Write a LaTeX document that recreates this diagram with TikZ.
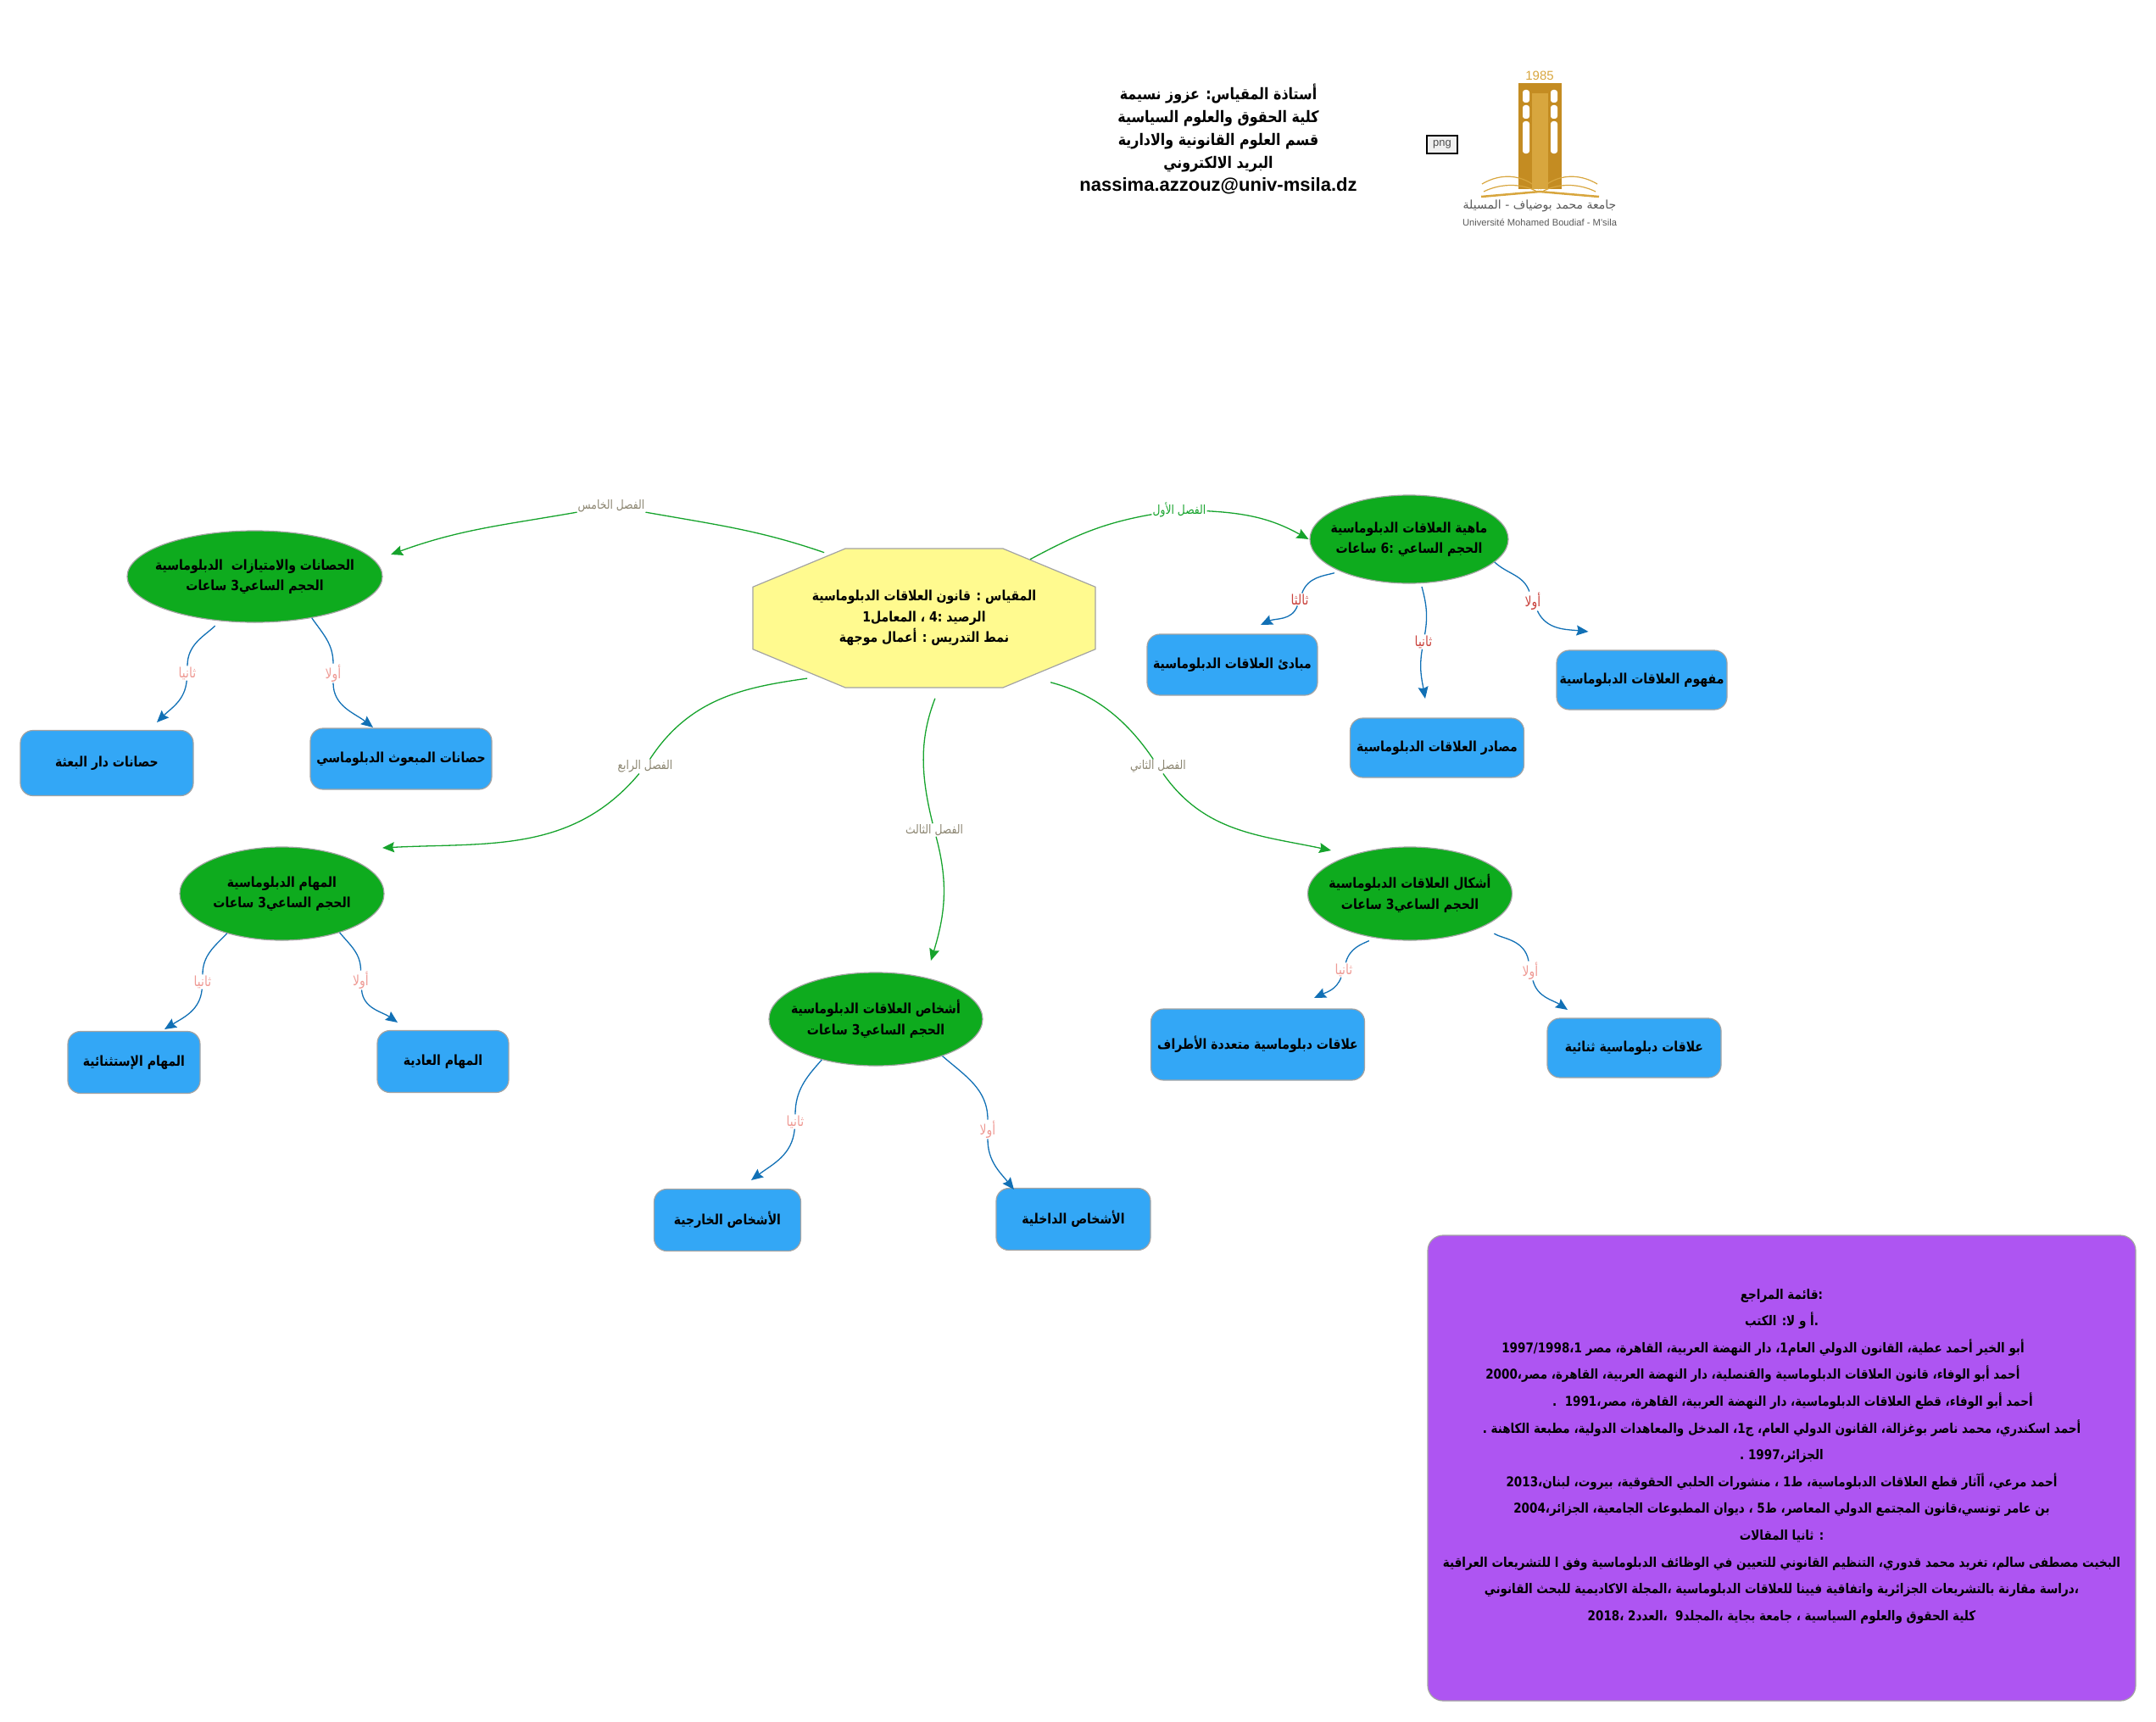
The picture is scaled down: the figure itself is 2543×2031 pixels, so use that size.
\documentclass[tikz,border=0pt]{standalone}
\usepackage{fontspec}
\usetikzlibrary{shapes.geometric,shapes.misc,arrows.meta}
\TeXXeTstate=1
\newfontfamily\arabicfont[Script=Arabic,FakeStretch=0.85]{DejaVu Sans}
\newfontfamily\logofont[Script=Arabic]{DejaVu Sans}
\newfontfamily\latinfont{Liberation Sans}
\newcommand{\rtl}[1]{\beginR #1\endR}
\definecolor{ovalgreen}{HTML}{0EAB1E}
\definecolor{boxblue}{HTML}{33A7F6}
\definecolor{octyellow}{HTML}{FFFA8F}
\definecolor{refpurple}{HTML}{AE55F2}
\definecolor{linegreen}{HTML}{16A32C}
\definecolor{lineblue}{HTML}{1170B5}
\definecolor{edgegray}{HTML}{A3A3A3}
\definecolor{labtaupe}{HTML}{8C8672}
\definecolor{labsalmon}{HTML}{EE9A94}
\definecolor{labred}{HTML}{C9423C}
\definecolor{logogold}{HTML}{C48C22}
\definecolor{logolight}{HTML}{D8A63E}
\begin{document}
\begin{tikzpicture}[x=1pt,y=-1pt,>={Stealth[length=14pt,width=12pt,inset=2pt]},
	main node/.style={chamfered rectangle,chamfered rectangle angle=67.45,chamfered rectangle xsep=32pt,chamfered rectangle ysep=32pt,minimum width=404pt,minimum height=164pt,inner sep=0pt,fill=octyellow,draw=edgegray,line width=1.2pt,align=center,font=\arabicfont\bfseries\fontsize{16.5}{24.5}\selectfont},
	chapter node/.style={ellipse,inner xsep=-45pt,inner ysep=-22pt,fill=ovalgreen,draw=edgegray,line width=1.2pt,align=center,font=\arabicfont\bfseries\fontsize{16.5}{24.5}\selectfont},
	topic node/.style={rectangle,rounded corners=15pt,inner sep=0pt,fill=boxblue,draw=edgegray,line width=1.2pt,align=center,font=\arabicfont\bfseries\fontsize{16.5}{24}\selectfont},
	chapter label/.style={inner sep=1pt,text=labtaupe,font=\arabicfont\fontsize{14.5}{16}\selectfont},
	topic label/.style={inner sep=1pt,text=labsalmon,font=\arabicfont\fontsize{16.5}{18}\selectfont},
	chapter line/.style={draw,color=linegreen,line width=1.3pt},
	topic line/.style={draw,color=lineblue,line width=1.3pt}]
	\useasboundingbox (0,0) rectangle (2543,2031);
	
	% header
	\node[align=center,font=\arabicfont\bfseries\fontsize{18.7}{27.2}\selectfont] (header) at (1437,164) {\rtl{أستاذة المقياس: عزوز نسيمة}\\\rtl{كلية الحقوق والعلوم السياسية}\\\rtl{قسم العلوم القانونية والادارية}\\\rtl{البريد الالكتروني}\\{\latinfont\fontsize{22}{27.2}\selectfont nassima.azzouz@univ-msila.dz}};
	\node[minimum width=36pt,minimum height=21pt,inner sep=0pt,fill=black!6,draw=black,line width=2pt,font=\latinfont\fontsize{13}{14}\selectfont,text=black!70] (png) at (1701,170.5) {png};
	
	% logo
	\node[text=logolight,font=\latinfont\fontsize{15}{18}\selectfont,inner sep=0pt] (year) at (1816,89) {1985};
	\fill[logogold] (1791,98) rectangle (1841.5,223);
	\fill[logolight] (1807,110) rectangle (1826,223);
	\foreach \wx in {1796,1829}{
		\fill[white,rounded corners=3pt] (\wx,106) rectangle +(8,15);
		\fill[white,rounded corners=3pt] (\wx,124) rectangle +(8,16);
		\fill[white,rounded corners=3pt] (\wx,143) rectangle +(8,38);
	}
	\draw[logolight,line width=2.5pt] (1747,232) -- (1816,226) -- (1886,232);
	\draw[logolight,line width=1.2pt] (1748,217) .. controls (1770,204) and (1795,205) .. (1815,223);
	\draw[logolight,line width=1.2pt] (1884,217) .. controls (1862,204) and (1837,205) .. (1817,223);
	\draw[logolight,line width=1.2pt] (1750,226) .. controls (1770,216) and (1795,216) .. (1813,226);
	\draw[logolight,line width=1.2pt] (1882,226) .. controls (1862,216) and (1837,216) .. (1819,226);
	\node[text=black!65,font=\logofont\fontsize{14}{16}\selectfont,inner sep=0pt] (unive ar) at (1816,243) {\rtl{جامعة محمد بوضياف - المسيلة}};
	\node[text=black!65,font=\latinfont\fontsize{11.2}{12}\selectfont,inner sep=0pt] (unive fr) at (1816,262) {Université Mohamed Boudiaf - M'sila};
	
	% nodes
	\node[main node] (main) at (1090,729) {\rtl{المقياس : قانون العلاقات الدبلوماسية}\\\rtl{الرصيد :4 ، المعامل1}\\\rtl{نمط التدريس : أعمال موجهة}};
	
	\node[chapter node,minimum width=234pt,minimum height=104pt] (ch1) at (1662,636) {\rtl{ماهية العلاقات الدبلوماسية}\\\rtl{الحجم الساعي :6 ساعات}};
	\node[chapter node,minimum width=241pt,minimum height=110pt] (ch2) at (1663,1054) {\rtl{أشكال العلاقات الدبلوماسية}\\\rtl{الحجم الساعي3 ساعات}};
	\node[chapter node,minimum width=252pt,minimum height=110pt] (ch3) at (1033,1202) {\rtl{أشخاص العلاقات الدبلوماسية}\\\rtl{الحجم الساعي3 ساعات}};
	\node[chapter node,minimum width=241pt,minimum height=110pt] (ch4) at (332.5,1054) {\rtl{المهام الدبلوماسية}\\\rtl{الحجم الساعي3 ساعات}};
	\node[chapter node,minimum width=301pt,minimum height=108pt] (ch5) at (300.5,680) {\rtl{الحصانات والامتيازات~ الدبلوماسية}\\\rtl{الحجم الساعي3 ساعات}};
	
	\node[topic node,minimum width=201pt,minimum height=72pt] (mabadi) at (1453.5,784) {\rtl{مبادئ العلاقات الدبلوماسية}};
	\node[topic node,minimum width=205pt,minimum height=70pt] (masadir) at (1695,882) {\rtl{مصادر العلاقات الدبلوماسية}};
	\node[topic node,minimum width=201pt,minimum height=70pt] (mafhoum) at (1936.5,802) {\rtl{مفهوم العلاقات الدبلوماسية}};
	\node[topic node,minimum width=252pt,minimum height=84pt] (multi) at (1483.5,1232) {\rtl{علاقات دبلوماسية متعددة الأطراف}};
	\node[topic node,minimum width=205pt,minimum height=70pt] (bilat) at (1927.5,1236) {\rtl{علاقات دبلوماسية ثنائية}};
	\node[topic node,minimum width=173pt,minimum height=73pt] (foreign) at (858,1439) {\rtl{الأشخاص الخارجية}};
	\node[topic node,minimum width=182pt,minimum height=73pt] (domestic) at (1266,1438) {\rtl{الأشخاص الداخلية}};
	\node[topic node,minimum width=156pt,minimum height=73pt] (special) at (158,1253) {\rtl{المهام الإستثنائية}};
	\node[topic node,minimum width=155pt,minimum height=73pt] (usual) at (522.5,1252) {\rtl{المهام العادية}};
	\node[topic node,minimum width=204pt,minimum height=77pt] (mission) at (126,900) {\rtl{حصانات دار البعثة}};
	\node[topic node,minimum width=214pt,minimum height=72pt] (envoy) at (473,895) {\rtl{حصانات المبعوث الدبلوماسي}};
	
	\node[rectangle,rounded corners=18pt,inner sep=0pt,fill=refpurple,draw=edgegray,line width=1.2pt,minimum width=835pt,minimum height=549pt,align=center,font=\arabicfont\bfseries\fontsize{15.9}{31.6}\selectfont] (refs) at (2101.5,1731.5) {\rtl{:قائمة المراجع}\\
		\rtl{.أ و لا: الكتب}\\
		\rtl{\kern44pt أبو الخير أحمد عطية، القانون الدولي العام1، دار النهضة العربية، القاهرة، مصر 1\kern0pt،\kern0pt 1997/1998}\\
		\rtl{\kern68pt أحمد أبو الوفاء، قانون العلاقات الدبلوماسية والقنصلية، دار النهضة العربية، القاهرة، مصر،2000}\\
		\rtl{أحمد أبو الوفاء، قطع العلاقات الدبلوماسية، دار النهضة العربية، القاهرة، مصر،1991~~.\kern26pt}\\
		\rtl{أحمد اسكندري، محمد ناصر بوغزالة، القانون الدولي العام، ج1، المدخل والمعاهدات الدولية، مطبعة الكاهنة .}\\
		\rtl{الجزائر،1997 .}\\
		\rtl{أحمد مرعي، أآثار قطع العلاقات الدبلوماسية، ط1 ، منشورات الحلبي الحقوقية، بيروت، لبنان،2013}\\
		\rtl{بن عامر تونسي،قانون المجتمع الدولي المعاصر، ط5 ، ديوان المطبوعات الجامعية، الجزائر،2004}\\
		\rtl{: ثانيا المقالات}\\
		\rtl{البخيت مصطفى سالم، تغريد محمد قدوري، التنظيم القانوني للتعيين في الوظائف الدبلوماسية وفق ا للتشريعات العراقية}\\
		\rtl{،دراسة مقارنة بالتشريعات الجزائرية واتفاقية فيينا للعلاقات الدبلوماسية ،المجلة الاكاديمية للبحث القانوني}\\
		\rtl{كلية الحقوق والعلوم السياسية ، جامعة بجاية ،المجلد9~~،العدد2 ،2018}\\~};
	
	% connector labels
	\node[chapter label,text=linegreen] (lab1) at (1391,601) {\rtl{الفصل الأول}};
	\node[chapter label] (lab2) at (1366,904) {\rtl{الفصل الثاني}};
	\node[chapter label] (lab3) at (1102,979) {\rtl{الفصل الثالث}};
	\node[chapter label] (lab4) at (761,904) {\rtl{الفصل الرابع}};
	\node[chapter label] (lab5) at (721,597) {\rtl{الفصل الخامس}};
	\node[topic label,text=labred] (lab1a) at (1808,709) {\rtl{أولا}};
	\node[topic label,text=labred] (lab1b) at (1679,757) {\rtl{ثانيا}};
	\node[topic label,text=labred] (lab1c) at (1533,707) {\rtl{ثالثا}};
	\node[topic label] (lab2a) at (1805,1145) {\rtl{أولا}};
	\node[topic label] (lab2b) at (1585,1144) {\rtl{ثانيا}};
	\node[topic label] (lab3a) at (1165,1332) {\rtl{أولا}};
	\node[topic label] (lab3b) at (938,1323) {\rtl{ثانيا}};
	\node[topic label] (lab4a) at (425.5,1156) {\rtl{أولا}};
	\node[topic label] (lab4b) at (239,1158) {\rtl{ثانيا}};
	\node[topic label] (lab5a) at (393,794) {\rtl{أولا}};
	\node[topic label] (lab5b) at (221,794) {\rtl{ثانيا}};
	
	% free arrow ends
	\coordinate (tip1) at (1543.5,636);
	\coordinate (tip2) at (1570,1003);
	\coordinate (tip3) at (1098,1133);
	\coordinate (tip4) at (451,1000);
	\coordinate (tip5) at (461,654);
	\coordinate (tip1a) at (1873.5,745);
	\coordinate (tip1b) at (1681,824);
	\coordinate (tip1c) at (1487,737);
	\coordinate (tip2a) at (1849,1191);
	\coordinate (tip2b) at (1550,1177);
	\coordinate (tip3a) at (1196,1403);
	\coordinate (tip3b) at (886,1392);
	\coordinate (tip4a) at (469,1206);
	\coordinate (tip4b) at (194,1214);
	\coordinate (tip5a) at (440,858);
	\coordinate (tip5b) at (185,852);
	
	% main to chapters
	\path[chapter line]
	(main.29) edge[out=28,in=190] (lab1)
	(lab1) edge[->,out=-3,in=151] (tip1)
	(main.-29) edge[shorten <=25pt,out=-15,in=124] (lab2)
	(lab2) edge[->,out=-55,in=168] (tip2)
	(main.-78) edge[shorten <=13pt,out=-111,in=104] (lab3)
	(lab3) edge[->,out=-75,in=73] (tip3)
	(main.-151) edge[shorten <=13pt,out=188,in=57] (lab4)
	(lab4) edge[->,out=-130,in=3] (tip4)
	(main.146) edge[shorten <=7pt,out=161,in=-10] (lab5)
	(lab5) edge[->,out=190,in=20] (tip5)
	;
	
	% chapters to topics
	\path[topic line]
	(ch1.-15) edge[out=-43,in=110] (lab1a)
	(lab1a) edge[->,out=-65,in=174] (tip1a)
	(ch1.-75) edge[shorten <=4pt,out=-75,in=80] (lab1b)
	(lab1b) edge[->,out=-100,in=100] (tip1b)
	(ch1.-155) edge[shorten <=7pt,out=195,in=70] (lab1c)
	(lab1c) edge[->,out=-110,in=25] (tip1c)
	(ch2.-24) edge[shorten <=15pt,out=-34,in=100] (lab2a)
	(lab2a) edge[->,out=-75,in=146] (tip2a)
	(ch2.-128) edge[shorten <=8pt,out=204,in=75] (lab2b)
	(lab2b) edge[->,out=-110,in=25] (tip2b)
	(ch3.-29) edge[out=-41,in=90] (lab3a)
	(lab3a) edge[->,out=-90,in=129] (tip3a)
	(ch3.-143) edge[out=228,in=90] (lab3b)
	(lab3b) edge[->,out=-95,in=37] (tip3b)
	(ch4.-34) edge[out=-50,in=90] (lab4a)
	(lab4a) edge[->,out=-85,in=145] (tip4a)
	(ch4.-144) edge[out=225,in=90] (lab4b)
	(lab4b) edge[->,out=-95,in=32] (tip4b)
	(ch5.-36) edge[out=-55,in=90] (lab5a)
	(lab5a) edge[->,out=-90,in=142] (tip5a)
	(ch5.-128) edge[shorten <=8pt,out=224,in=90] (lab5b)
	(lab5b) edge[->,out=-95,in=45] (tip5b)
	;
\end{tikzpicture}
\end{document}
